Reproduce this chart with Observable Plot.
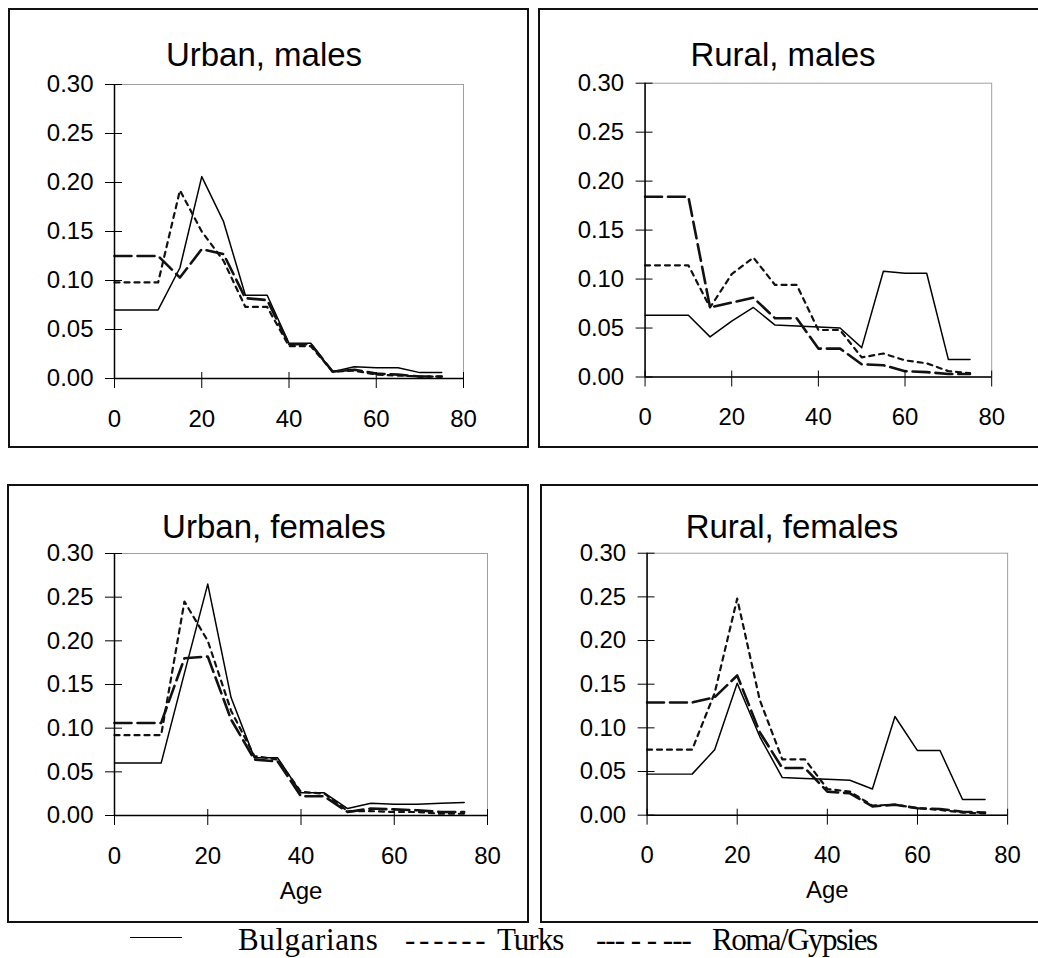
<!DOCTYPE html>
<html><head><meta charset="utf-8">
<script src="https://cdn.jsdelivr.net/npm/d3@7"></script>
<script src="https://cdn.jsdelivr.net/npm/@observablehq/plot@0.6"></script>
<style>
body{margin:0;background:#fff;}
#page{position:relative;width:1038px;height:958px;overflow:hidden;background:#fff;font-family:"Liberation Sans",Arial,sans-serif;}
.box{position:absolute;box-sizing:border-box;border:2px solid #111;pointer-events:none;}
.panel{position:absolute;}
.panel svg{display:block;overflow:visible;}
.title{position:absolute;width:400px;text-align:center;font-size:33px;line-height:33px;color:#000;white-space:nowrap;}
.leg{position:absolute;font-family:"Liberation Serif","Times New Roman",serif;font-size:31px;line-height:31px;white-space:pre;color:#000;}
.legline{position:absolute;border-top:1.5px solid #000;}
</style></head><body><div id="page"></div>
<script>
// ---- data ----
const ages = [0,5,10,15,20,25,30,35,40,45,50,55,60,65,70,75];
const seriesNames = ["Bulgarians","Turks","Roma/Gypsies"];
const panelTitles = ["Urban, males","Rural, males","Urban, females","Rural, females"];

const urbanMalesBulgarians = [0.070,0.070,0.070,0.113,0.206,0.160,0.085,0.085,0.036,0.036,0.007,0.012,0.011,0.011,0.006,0.006];
const urbanMalesTurks      = [0.098,0.098,0.098,0.192,0.150,0.120,0.073,0.073,0.033,0.033,0.007,0.008,0.004,0.003,0.002,0.002];
const urbanMalesRoma       = [0.125,0.125,0.125,0.103,0.132,0.127,0.082,0.080,0.035,0.035,0.007,0.009,0.005,0.004,0.002,0.002];

const ruralMalesBulgarians = [0.063,0.063,0.063,0.041,0.057,0.071,0.053,0.052,0.051,0.050,0.030,0.108,0.106,0.106,0.018,0.018];
const ruralMalesTurks      = [0.114,0.114,0.114,0.071,0.105,0.122,0.094,0.094,0.048,0.048,0.020,0.024,0.017,0.014,0.006,0.004];
const ruralMalesRoma       = [0.184,0.184,0.184,0.071,0.076,0.081,0.060,0.060,0.029,0.029,0.013,0.012,0.006,0.005,0.003,0.003];

const urbanFemalesBulgarians = [0.060,0.060,0.060,0.163,0.265,0.135,0.066,0.066,0.026,0.026,0.008,0.014,0.013,0.013,0.014,0.015];
const urbanFemalesTurks      = [0.092,0.092,0.092,0.245,0.200,0.120,0.068,0.064,0.027,0.025,0.005,0.005,0.004,0.004,0.002,0.002];
const urbanFemalesRoma       = [0.106,0.106,0.106,0.180,0.182,0.110,0.064,0.062,0.022,0.022,0.004,0.008,0.007,0.006,0.004,0.004];

const ruralFemalesBulgarians = [0.047,0.047,0.047,0.075,0.151,0.090,0.043,0.042,0.041,0.040,0.030,0.113,0.074,0.074,0.018,0.018];
const ruralFemalesTurks      = [0.075,0.075,0.075,0.140,0.248,0.132,0.064,0.064,0.030,0.027,0.011,0.012,0.008,0.006,0.003,0.002];
const ruralFemalesRoma       = [0.129,0.129,0.129,0.135,0.160,0.095,0.054,0.054,0.027,0.025,0.010,0.012,0.008,0.007,0.004,0.003];

const xTicks = [0,20,40,60,80];
const yTicks = [0,0.05,0.10,0.15,0.20,0.25,0.30];

// ---- layout ----
const page = document.getElementById("page");
const panels = [
  {title: panelTitles[0], series: [urbanMalesBulgarians, urbanMalesTurks, urbanMalesRoma],
   box: {left: 8, top: 8, w: 521, h: 440}, m: {l: 106, r: 66, t: 76, b: 70}, age: false, titleX: 264, titleTop: 38},
  {title: panelTitles[1], series: [ruralMalesBulgarians, ruralMalesTurks, ruralMalesRoma],
   box: {left: 538, top: 8, w: 502, h: 440}, m: {l: 107, r: 47, t: 75, b: 70}, age: false, titleX: 783, titleTop: 38},
  {title: panelTitles[2], series: [urbanFemalesBulgarians, urbanFemalesTurks, urbanFemalesRoma],
   box: {left: 7, top: 484, w: 522, h: 439}, m: {l: 107, r: 42, t: 69, b: 108}, age: true, titleX: 274, titleTop: 510},
  {title: panelTitles[3], series: [ruralFemalesBulgarians, ruralFemalesTurks, ruralFemalesRoma],
   box: {left: 540, top: 484, w: 500, h: 439}, m: {l: 107, r: 31, t: 69, b: 107}, age: true, titleX: 792, titleTop: 510}
];

const styles = [
  {stroke: "#000", strokeWidth: 1.5},
  {stroke: "#111", strokeWidth: 2.2, strokeDasharray: "5,5"},
  {stroke: "#111", strokeWidth: 2.6, strokeDasharray: "17,6"}
];

for (const p of panels) {
  const marks = [
    Plot.frame({stroke: "#a0a0a0", strokeWidth: 1})
  ];
  p.series.forEach((vals, si) => {
    const rows = ages.map((a, i) => ({age: a, value: vals[i], group: seriesNames[si]}));
    marks.push(Plot.line(rows, {x: "age", y: "value", ...styles[si]}));
  });
  marks.push(
    Plot.ruleX([0], {stroke: "#000", strokeWidth: 1.5}),
    Plot.ruleY([0], {stroke: "#000", strokeWidth: 1.5}),
    Plot.axisX(xTicks, {tickSize: 16, dy: -6, tickPadding: 21, label: null, stroke: "#000"}),
    Plot.axisY(yTicks, {tickSize: 17, dx: 8, tickPadding: 12, label: null, stroke: "#000", tickFormat: d3.format(".2f")})
  );
  if (p.age) marks.push(Plot.text(["Age"], {frameAnchor: "bottom", text: d => d, dy: 66, lineAnchor: "top", fontSize: 24}));
  const chart = Plot.plot({
    width: p.box.w, height: p.box.h,
    marginLeft: p.m.l, marginRight: p.m.r, marginTop: p.m.t, marginBottom: p.m.b,
    x: {domain: [0, 80]},
    y: {domain: [0, 0.30]},
    style: {fontFamily: "'Liberation Sans', Arial, sans-serif", fontSize: "24px", color: "#000", background: "transparent", overflow: "visible"},
    marks
  });
  const holder = document.createElement("div");
  holder.className = "panel";
  holder.style.left = p.box.left + "px";
  holder.style.top = p.box.top + "px";
  holder.appendChild(chart);
  page.appendChild(holder);
  const box = document.createElement("div");
  box.className = "box";
  Object.assign(box.style, {left: p.box.left + "px", top: p.box.top + "px", width: p.box.w + "px", height: p.box.h + "px"});
  page.appendChild(box);
  const t = document.createElement("div");
  t.className = "title";
  t.textContent = p.title;
  t.style.left = (p.titleX - 200) + "px";
  t.style.top = p.titleTop + "px";
  page.appendChild(t);
}

// ---- legend ----
const legendItems = [
  {text: seriesNames[0], left: 238, ls: 0.6},
  {text: "- - - - - -", left: 405, ls: -2},
  {text: seriesNames[1], left: 497, ls: -1},
  {text: "--- - - ---", left: 596, ls: -1},
  {text: seriesNames[2], left: 712, ls: -1.5}
];
const ll = document.createElement("div");
ll.className = "legline";
Object.assign(ll.style, {left: "130px", top: "937px", width: "52px"});
page.appendChild(ll);
for (const it of legendItems) {
  const s = document.createElement("div");
  s.className = "leg";
  s.textContent = it.text;
  s.style.left = it.left + "px";
  s.style.top = "924px";
  s.style.letterSpacing = it.ls + "px";
  page.appendChild(s);
}
</script></body></html>
